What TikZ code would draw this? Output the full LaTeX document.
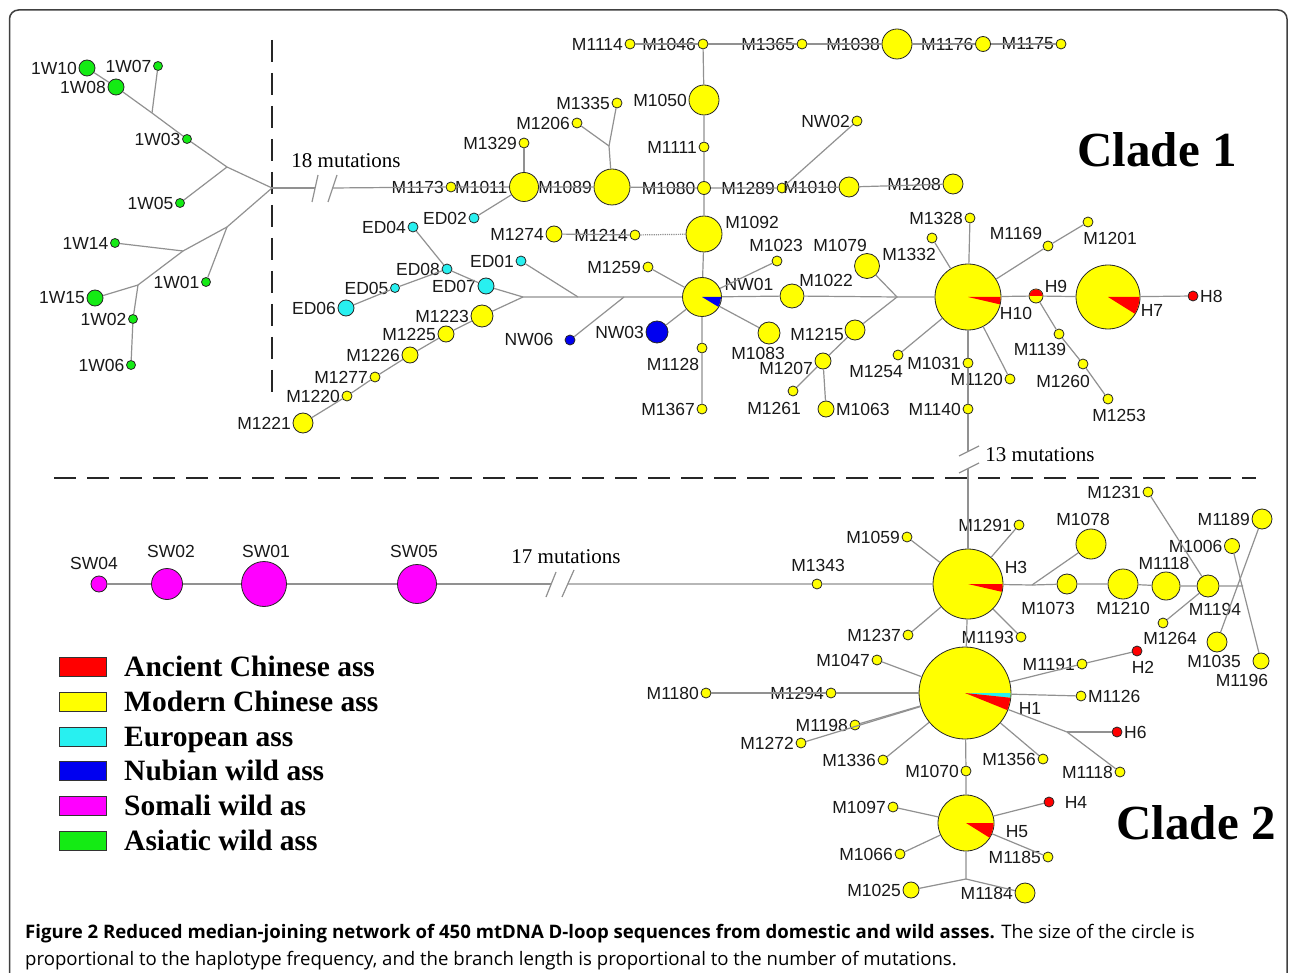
\documentclass[tikz,border=0pt]{standalone}
\usepackage{fontspec}
\setmainfont{Liberation Sans}
\newfontfamily\timesfont{Liberation Serif}
\newfontfamily\capfont{Open Sans}
\usetikzlibrary{positioning}
\definecolor{ancRed}{RGB}{255,0,0}
\definecolor{modYellow}{RGB}{255,255,0}
\definecolor{eurCyan}{RGB}{40,240,240}
\definecolor{nubBlue}{RGB}{0,0,240}
\definecolor{somMagenta}{RGB}{255,0,255}
\definecolor{asiGreen}{RGB}{20,235,20}
\definecolor{linkGray}{RGB}{145,145,145}

\tikzset{
  hap/.style={circle, draw=black!85, line width=0.8pt, inner sep=0pt, minimum size=#1pt},
  hap/.default=10,
  modHap/.style={hap=#1, fill=modYellow}, modHap/.default=10,
  eurHap/.style={hap=#1, fill=eurCyan}, eurHap/.default=10,
  nubHap/.style={hap=#1, fill=nubBlue}, nubHap/.default=10,
  somHap/.style={hap=#1, fill=somMagenta}, somHap/.default=10,
  asiHap/.style={hap=#1, fill=asiGreen}, asiHap/.default=9,
  ancHap/.style={hap=#1, fill=ancRed}, ancHap/.default=10,
  lbl/.style={font=\fontsize{17.5}{19}\selectfont, text=black!90, inner sep=1pt},
  link/.style={draw=linkGray, line width=1.2pt},
  split/.style={draw=black!85, line width=2pt, dash pattern=on 22pt off 11pt},
  mutlbl/.style={font=\timesfont\fontsize{21}{24}\selectfont, inner sep=0pt},
  cladelbl/.style={font=\timesfont\bfseries\fontsize{49}{52}\selectfont, inner sep=0pt},
  legbox/.style={draw=black!80, line width=1pt, minimum width=47pt, minimum height=19pt, inner sep=0pt},
  legtxt/.style={font=\timesfont\bfseries\fontsize{29.5}{30}\selectfont, inner sep=0pt, text height=19pt, text depth=0pt},
  capfnt/.style={font=\capfont\fontsize{18.6}{20}\selectfont, inner sep=0pt},
  frame/.style={draw=black!75, line width=1.5pt, rounded corners=9pt}
}

% wedge of a haplotype pie: node, radius, start, end, colour
\newcommand{\hapslice}[5]{%
  \fill[#5] (#1.center) -- ++(#3:#2) arc[start angle=#3, end angle=#4, radius=#2] -- cycle;}

\begin{document}
\begin{tikzpicture}[x=1pt, y=-1pt, every label/.style={lbl}, label distance=0.5pt]

	\useasboundingbox[fill=white] (0,0) rectangle (1290,973);
	\begin{scope}
		\clip (0,0) rectangle (1290,973);
		\draw[frame] (9.5,10) rectangle (1287,1000);
	\end{scope}

% Separators.

	\draw[split] (272,40) -- (272,392);
	\draw[split] (54,478) -- (1256,478);

% Asiatic wild ass.

	\node[asiHap=16, label=left:1W10] (w10) at (87,68) {};
	\node[asiHap, label=left:1W07] (w07) at (158,66) {};
	\node[asiHap=16, label=left:1W08] (w08) at (116,87) {};
	\node[asiHap, label=left:1W03] (w03) at (187,139) {};
	\node[asiHap, label=left:1W05] (w05) at (180,203) {};
	\node[asiHap, label=left:1W14] (w14) at (115,243) {};
	\node[asiHap, label=left:1W01] (w01) at (206,282) {};
	\node[asiHap=16, label=left:1W15] (w15) at (95,298) {};
	\node[asiHap, label=left:1W02] (w02) at (133,319) {};
	\node[asiHap, label=left:1W06] (w06) at (131,365) {};

	\coordinate (hub) at (272,188);
	\coordinate (ja) at (152,113);
	\coordinate (jb) at (227,167);
	\coordinate (jc) at (227,227);
	\coordinate (jd) at (183,251);
	\coordinate (je) at (138,285);

	\draw[link] (w10) -- (w08) -- (ja) -- (w03) -- (jb) -- (hub);
	\draw[link] (w07) -- (ja);
	\draw[link] (w05) -- (jb);
	\draw[link] (hub) -- (jc) -- (jd) -- (je) -- (w15);
	\draw[link] (w01) -- (jc);
	\draw[link] (w14) -- (jd);
	\draw[link] (je) -- (w02) -- (w06);

% Clade 1.

	%top row
	\node[modHap, label=left:M1114] (M1114) at (630,44) {};
	\node[modHap, label=left:M1046] (M1046) at (703,44) {};
	\node[modHap, label=left:M1365] (M1365) at (802,44) {};
	\node[modHap=30, label=left:M1038] (M1038) at (897,44) {};
	\node[modHap=15, label=left:M1176] (M1176) at (983,44) {};
	\node[modHap, label=left:M1175] (M1175) at (1061,44) {};

	%vertical column
	\node[modHap=30, label=left:M1050] (M1050) at (704,100) {};
	\node[modHap, label=left:M1111] (M1111) at (704,147) {};
	\node[modHap=13, label=left:M1080] (M1080) at (704,188) {};
	\node[modHap=36] (M1092) at (704,234) {};
	\node[modHap=39] (NW01) at (702,297) {};
	\node[modHap] (M1128) at (702,348) {};
	\node[modHap, label=left:M1367] (M1367) at (702,409) {};

	%main row
	\node[modHap, label=left:M1173] (M1173) at (451,187) {};
	\node[modHap=29, label=left:M1011] (M1011) at (524,187) {};
	\node[modHap=36, label=left:M1089] (M1089) at (612,187) {};
	\node[modHap, label=left:M1289] (M1289) at (782,188) {};
	\node[modHap=20, label=left:M1010] (M1010) at (849,187) {};
	\node[modHap=20, label=left:M1208] (M1208) at (953,184) {};
	\node[modHap, label=left:NW02] (NW02) at (857,121) {};
	\node[modHap, label=left:M1329] (M1329) at (524,143) {};
	\node[modHap, label=left:M1206] (M1206) at (577,123) {};
	\node[modHap, label=left:M1335] (M1335) at (617,103) {};
	\coordinate (jf) at (609,146);

	%European and Nubian
	\node[eurHap, label=left:ED02] (ED02) at (474,218) {};
	\node[eurHap, label=left:ED04] (ED04) at (413,227) {};
	\node[eurHap, label=left:ED08] (ED08) at (447,269) {};
	\node[eurHap=9, label=left:ED05] (ED05) at (395,288) {};
	\node[eurHap=16, label=left:ED06] (ED06) at (346,308) {};
	\node[eurHap=16, label=left:ED07] (ED07) at (486,286) {};
	\node[eurHap, label=left:ED01] (ED01) at (521,261) {};
	\node[nubHap] (NW06) at (570,340) {};
	\node[nubHap=22, label=left:NW03] (NW03) at (657,332) {};

	\node[modHap=16, label=left:M1274] (M1274) at (554,234) {};
	\node[modHap, label=left:M1214] (M1214) at (635,235) {};
	\node[modHap, label=left:M1259] (M1259) at (648,267) {};
	\node[modHap=22, label=left:M1223] (M1223) at (482,316) {};
	\node[modHap=16, label=left:M1225] (M1225) at (446,334) {};
	\node[modHap=16, label=left:M1226] (M1226) at (410,355) {};
	\node[modHap, label=left:M1277] (M1277) at (375,377) {};
	\node[modHap, label=left:M1220] (M1220) at (347,396) {};
	\node[modHap=20, label=left:M1221] (M1221) at (303,423) {};

	\coordinate (jg) at (523,297);
	\coordinate (jh) at (578,297);
	\coordinate (ji) at (624,297);

	%right of NW01
	\node[modHap] (M1023) at (777,261) {};
	\node[modHap=25] (M1079) at (867,266) {};
	\node[modHap=24] (M1022) at (792,296) {};
	\node[modHap=22] (M1083) at (769,333) {};
	\node[modHap=20] (M1215) at (855,330) {};
	\node[modHap=16] (M1207) at (823,361) {};
	\node[modHap] (M1261) at (793,391) {};
	\node[modHap=16, label=right:M1063] (M1063) at (826,409) {};
	\node[modHap] (M1254) at (898,355) {};
	\coordinate (jk) at (897,297);

	\node[modHap=66] (H10) at (968,297) {};
	\node[modHap] (M1332) at (932,238) {};
	\node[modHap, label=left:M1328] (M1328) at (970,218) {};
	\node[modHap, label=left:M1031] (M1031) at (968,363) {};
	\node[modHap, label=left:M1140] (M1140) at (968,409) {};
	\node[modHap, label=left:M1120] (M1120) at (1010,379) {};
	\node[modHap] (M1169) at (1048,246) {};
	\node[modHap] (M1201) at (1088,222) {};
	\node[modHap=14] (H9) at (1036,296) {};
	\node[modHap=64] (H7) at (1108,297) {};
	\node[ancHap, label=right:H8] (H8) at (1193,296) {};
	\node[modHap] (M1139) at (1059,334) {};
	\node[modHap] (M1260) at (1083,364) {};
	\node[modHap] (M1253) at (1108,399) {};

	%free labels
	\node[lbl] (tM1092) at (752,222) {M1092};
	\node[lbl] (tNW01) at (749,284) {NW01};
	\node[lbl] (tM1128) at (673,364) {M1128};
	\node[lbl] (tNW06) at (529,339) {NW06};
	\node[lbl] (tM1023) at (776,245) {M1023};
	\node[lbl] (tM1079) at (840,245) {M1079};
	\node[lbl] (tM1022) at (826,280) {M1022};
	\node[lbl] (tM1083) at (758,353) {M1083};
	\node[lbl] (tM1215) at (817,334) {M1215};
	\node[lbl] (tM1207) at (786,368) {M1207};
	\node[lbl] (tM1261) at (774,408) {M1261};
	\node[lbl] (tM1254) at (876,371) {M1254};
	\node[lbl] (tM1332) at (909,254) {M1332};
	\node[lbl] (tM1169) at (1016,233) {M1169};
	\node[lbl] (tM1201) at (1110,238) {M1201};
	\node[lbl] (tH9) at (1056,286) {H9};
	\node[lbl] (tH10) at (1016,313) {H10};
	\node[lbl] (tH7) at (1152,310) {H7};
	\node[lbl] (tM1139) at (1040,349) {M1139};
	\node[lbl] (tM1260) at (1063,381) {M1260};
	\node[lbl] (tM1253) at (1119,415) {M1253};

	% Draw lines.
	\coordinate (bka) at (315,188);
	\coordinate (bkb) at (332,188);
	\draw[link] (hub) -- (bka);
	\draw[link] (bkb) -- (M1173) -- (M1011) -- (M1089) -- (M1080) -- (M1289) -- (M1010) -- (M1208);
	\draw[link] (bka) ++(-3,14) -- ++(6,-27);
	\draw[link] (bkb) ++(-4,14) -- ++(9,-27);
	\node[mutlbl] (mut18) at (346,161) {18 mutations};

	\draw[link] (M1114) -- (M1046) -- (M1365) -- (M1038) -- (M1176) -- (M1175);
	\draw[link] (M1046) -- (M1050) -- (M1111) -- (M1080) -- (M1092) -- (NW01) -- (M1128) -- (M1367);
	\draw[link] (M1289) -- (NW02);
	\draw[link] (M1011) -- (M1329);
	\draw[link] (M1089) -- (jf) -- (M1206);
	\draw[link] (jf) -- (M1335);
	\draw[link] (M1011) -- (ED02);
	\draw[link] (ED04) -- (ED08) -- (ED07) -- (jg);
	\draw[link] (ED06) -- (ED05) -- (ED08);
	\draw[link] (jg) -- (M1223) -- (M1225) -- (M1226) -- (M1277) -- (M1220) -- (M1221);
	\draw[link] (jg) -- (jh) -- (ji) -- (NW01) -- (M1022) -- (jk) -- (H10) -- (H9) -- (H7) -- (H8);
	\draw[link] (ED01) -- (jh);
	\draw[link] (NW06) -- (ji);
	\draw[link] (NW03) -- (NW01);
	\draw[link] (M1259) -- (NW01);
	\draw[link] (M1274) -- (M1214);
	\draw[link, densely dotted] (M1214) -- (M1092);
	\draw[link] (NW01) -- (M1023);
	\draw[link] (NW01) -- (M1083);
	\draw[link] (M1079) -- (jk) -- (M1215) -- (M1207) -- (M1261);
	\draw[link] (M1207) -- (M1063);
	\draw[link] (M1254) -- (H10);
	\draw[link] (M1332) -- (H10);
	\draw[link] (M1328) -- (H10);
	\draw[link] (H10) -- (M1169) -- (M1201);
	\draw[link] (H10) -- (M1120);
	\draw[link] (H10) -- (M1031) -- (M1140);
	\draw[link] (H9) -- (M1139) -- (M1260) -- (M1253);

	\hapslice{NW01}{19}{0}{31}{nubBlue}
	\hapslice{H10}{32.5}{0}{13}{ancRed}
	\hapslice{H7}{31.5}{0}{32}{ancRed}
	\hapslice{H9}{6.5}{180}{360}{ancRed}

	\node[cladelbl] (clade1) at (1157,150) {Clade 1};

% Clade 2.

	\node[somHap=16] (SW04) at (99,584) {};
	\node[somHap=31] (SW02) at (167,584) {};
	\node[somHap=45] (SW01) at (264,584) {};
	\node[somHap=39] (SW05) at (417,584) {};
	\node[lbl] (tSW04) at (94,563) {SW04};
	\node[lbl] (tSW02) at (171,551) {SW02};
	\node[lbl] (tSW01) at (266,551) {SW01};
	\node[lbl] (tSW05) at (414,551) {SW05};

	\node[modHap=70] (H3) at (968,584) {};
	\node[modHap] (M1343) at (817,584) {};
	\node[modHap, label=left:M1291] (M1291) at (1019,525) {};
	\node[modHap, label=left:M1059] (M1059) at (907,537) {};
	\node[modHap, label=left:M1237] (M1237) at (908,635) {};
	\node[modHap, label=left:M1193] (M1193) at (1021,637) {};
	\coordinate (jl) at (1032,585);
	\node[modHap=30] (M1078) at (1091,544) {};
	\node[modHap=20] (M1073) at (1067,584) {};
	\node[modHap=30] (M1210) at (1123,584) {};
	\node[modHap=28] (M1118) at (1166,586) {};
	\node[modHap=22] (M1194) at (1208,586) {};
	\coordinate (jm) at (1243,586);
	\node[modHap, label=left:M1231] (M1231) at (1148,492) {};
	\node[modHap=20, label=left:M1189] (M1189) at (1262,519) {};
	\node[modHap=15, label=left:M1006] (M1006) at (1232,546) {};
	\node[modHap=20] (M1035) at (1217,642) {};
	\node[modHap=16] (M1196) at (1261,661) {};
	\node[modHap] (M1264) at (1163,623) {};

	\node[modHap=92] (H1) at (965,693) {};
	\node[modHap, label=left:M1180] (M1180) at (706,693) {};
	\node[modHap, label=left:M1294] (M1294) at (831,693) {};
	\node[modHap, label=left:M1047] (M1047) at (877,660) {};
	\node[modHap, label=left:M1198] (M1198) at (855,725) {};
	\node[modHap, label=left:M1272] (M1272) at (801,743) {};
	\node[modHap, label=left:M1336] (M1336) at (883,760) {};
	\node[modHap, label=left:M1070] (M1070) at (966,771) {};
	\node[modHap, label=left:M1356] (M1356) at (1043,759) {};
	\node[modHap, label=left:M1118] (M1118b) at (1120,772) {};
	\coordinate (jn) at (1067,732);
	\node[ancHap, label=right:H6] (H6) at (1117,732) {};
	\node[modHap, label=right:M1126] (M1126) at (1081,696) {};
	\node[modHap, label=left:M1191] (M1191) at (1082,664) {};
	\node[ancHap] (H2) at (1137,651) {};

	\node[modHap=56] (H5) at (966,823) {};
	\node[ancHap] (H4) at (1049,802) {};
	\node[modHap, label=left:M1097] (M1097) at (893,807) {};
	\node[modHap, label=left:M1066] (M1066) at (900,854) {};
	\node[modHap, label=left:M1185] (M1185) at (1048,857) {};
	\coordinate (jo) at (966,879);
	\node[modHap=16, label=left:M1025] (M1025) at (911,890) {};
	\node[modHap=20, label=left:M1184] (M1184) at (1025,893) {};

	%free labels
	\node[lbl] (tM1343) at (818,565) {M1343};
	\node[lbl] (tH3) at (1016,567) {H3};
	\node[lbl] (tM1078) at (1083,519) {M1078};
	\node[lbl] (tM1073) at (1048,608) {M1073};
	\node[lbl] (tM1210) at (1123,608) {M1210};
	\node[lbl] (tM1118) at (1164,563) {M1118};
	\node[lbl] (tM1194) at (1215,609) {M1194};
	\node[lbl] (tM1264) at (1170,638) {M1264};
	\node[lbl] (tM1035) at (1214,661) {M1035};
	\node[lbl] (tM1196) at (1242,680) {M1196};
	\node[lbl] (tH2) at (1143,667) {H2};
	\node[lbl] (tH1) at (1030,708) {H1};
	\node[lbl] (tH4) at (1076,802) {H4};
	\node[lbl] (tH5) at (1017,832) {H5};

	% Draw lines.
	\coordinate (bkc) at (551,584);
	\coordinate (bkd) at (568,584);
	\draw[link] (SW04) -- (SW02) -- (SW01) -- (SW05) -- (bkc);
	\draw[link] (bkd) -- (M1343) -- (H3) -- (jl) -- (M1073) -- (M1210) -- (M1118) -- (M1194) -- (jm);
	\draw[link] (bkc) ++(-5,13) -- ++(10,-25);
	\draw[link] (bkd) ++(-6,13) -- ++(12,-27);
	\node[mutlbl] (mut17) at (566,557) {17 mutations};

	\coordinate (bke) at (968,451);
	\coordinate (bkf) at (968,468);
	\draw[link] (M1140) -- (bke);
	\draw[link] (bkf) -- (H3);
	\draw[link] (bke) ++(-9,5) -- ++(20,-10);
	\draw[link] (bkf) ++(-9,5) -- ++(20,-10);
	\node[mutlbl] (mut13) at (1040,455) {13 mutations};

	\draw[link] (jl) -- (M1078);
	\draw[link] (M1231) -- (M1194);
	\draw[link] (M1189) -- (M1035);
	\draw[link] (M1006) -- (M1196);
	\draw[link] (M1264) -- (M1194);
	\draw[link] (H3) -- (M1291);
	\draw[link] (H3) -- (M1059);
	\draw[link] (H3) -- (M1237);
	\draw[link] (H3) -- (M1193);
	\draw[link] (H3) -- (H1);

	\draw[link] (M1180) -- (M1294) -- (H1);
	\draw[link] (M1047) -- (H1);
	\draw[link] (M1198) -- (H1);
	\draw[link] (M1272) -- (H1);
	\draw[link] (M1336) -- (H1);
	\draw[link] (M1356) -- (H1);
	\draw[link] (H1) -- (M1070) -- (H5);
	\draw[link] (H1) -- (jn) -- (M1118b);
	\draw[link] (jn) -- (H6);
	\draw[link] (H1) -- (M1126);
	\draw[link] (H1) -- (M1191) -- (H2);
	\draw[link] (H5) -- (H4);
	\draw[link] (M1097) -- (H5);
	\draw[link] (M1066) -- (H5);
	\draw[link] (H5) -- (M1185);
	\draw[link] (H5) -- (jo) -- (M1025);
	\draw[link] (jo) -- (M1184);

	\hapslice{H3}{34.5}{0}{13}{ancRed}
	\hapslice{H1}{45.5}{0}{6}{eurCyan}
	\hapslice{H1}{45.5}{6}{22}{ancRed}
	\hapslice{H5}{27.5}{0}{32}{ancRed}

	\node[cladelbl] (clade2) at (1196,823) {Clade 2};

% Legend.

	\foreach \col/\txt [count=\i] in {ancRed/Ancient Chinese ass, modYellow/Modern Chinese ass, eurCyan/European ass, nubBlue/Nubian wild ass, somMagenta/Somali wild as, asiGreen/Asiatic wild ass}
	{
		\node[legbox, fill=\col] (key\i) at (83, 632.2+34.8*\i) {};
		\node[legtxt, right=17pt of key\i] (keytxt\i) {\txt};
	}

% Caption.

	\node[capfnt, anchor=base west] (cap1) at (25,938) {\textbf{Figure 2 Reduced median-joining network of 450 mtDNA D-loop sequences from domestic and wild asses.} The size of the circle is};
	\node[capfnt, anchor=base west] (cap2) at (25,965) {proportional to the haplotype frequency, and the branch length is proportional to the number of mutations.};

\end{tikzpicture}
\end{document}
